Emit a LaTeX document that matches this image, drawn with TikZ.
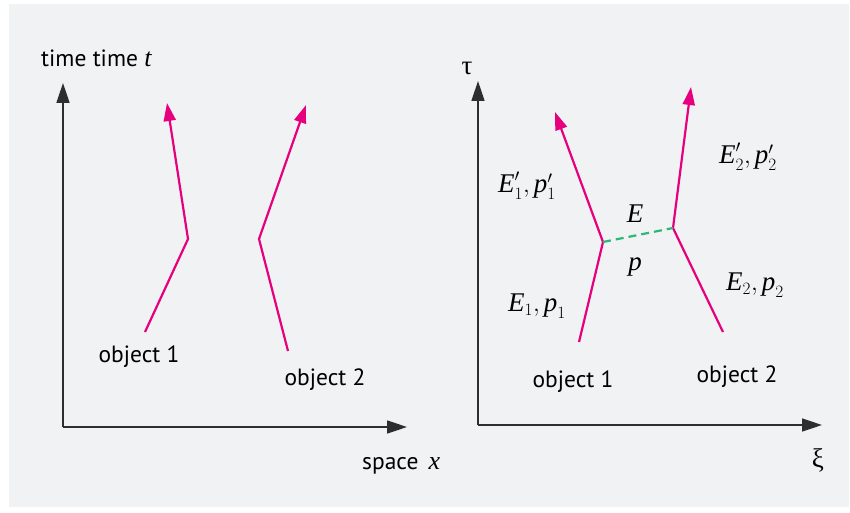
\documentclass[tikz,border=0pt]{standalone}
\usepackage{fontspec}
\setsansfont{PT Sans}
\newfontfamily\serifit{Liberation Serif}
\newcommand\mv[1]{\mbox{\serifit\itshape #1}}
\usetikzlibrary{arrows.meta}
\definecolor{bg}{HTML}{F1F2F4}
\definecolor{mag}{HTML}{E6007E}
\definecolor{grn}{HTML}{2DB87A}
\definecolor{axiscol}{HTML}{2E2E2E}
\tikzset{
  axisline/.style={draw=axiscol, line width=1.6pt, -{Triangle[length=20pt,width=13pt]}},
  wline/.style={draw=mag, line width=2.2pt},
  warrow/.style={wline, -{Triangle[length=18pt,width=12pt]}},
  exchange/.style={draw=grn, line width=2.2pt, dash pattern=on 8pt off 5pt},
  lbl/.style={font=\sffamily\fontsize{23.5}{28}\selectfont, inner sep=0pt},
  mlbl/.style={font=\fontsize{27}{32}\selectfont, inner sep=0pt}
}
\begin{document}
\begin{tikzpicture}[x=1pt,y=-1pt]
\useasboundingbox (0,0) rectangle (850,513);
\fill[bg] (9,4) rectangle (849,507);

% left panel
\coordinate (O1) at (63,427);
\coordinate (Y1) at (63,83);
\coordinate (X1) at (407,427);
\draw[axisline] (O1) -- (Y1);
\draw[axisline] (O1) -- (X1);
\node[lbl, anchor=west] (tlab) at (41,58) {time time {\serifit\itshape\fontsize{26}{30}\selectfont t}};
\node[lbl, anchor=west] (xlab) at (362,466) {space \,{\serifit\itshape\fontsize{26}{30}\selectfont x}};

\coordinate (a1) at (145,332);
\coordinate (b1) at (188,239);
\coordinate (c1) at (167,103);
\coordinate (a2) at (288,351);
\coordinate (b2) at (259,239);
\coordinate (c2) at (306,105);
\draw[warrow] (a1) -- (b1) -- (c1);
\draw[warrow] (a2) -- (b2) -- (c2);
\node[lbl] (ob1) at (139,357) {object 1};
\node[lbl] (ob2) at (325,380) {object 2};

% right panel
\coordinate (O2) at (478,425);
\coordinate (Y2) at (478,81);
\coordinate (X2) at (822,425);
\draw[axisline] (O2) -- (Y2);
\draw[axisline] (O2) -- (X2);
\node[mlbl] (tau) at (467,68) {\serifit τ};
\node[mlbl] (xi) at (818,460) {\serifit ξ};

\coordinate (d1) at (579,342);
\coordinate (e1) at (603,242);
\coordinate (f1) at (555,112);
\coordinate (d2) at (723,332);
\coordinate (e2) at (673,228);
\coordinate (f2) at (691,87);
\draw[warrow] (d1) -- (e1) -- (f1);
\draw[warrow] (d2) -- (e2) -- (f2);
\draw[exchange] (e1) -- (e2);

\node[mlbl] (E) at (635,214) {$\mv{E}$};
\node[mlbl] (p) at (635,267) {$\mv{p}$};
\node[mlbl] (ep1) at (537,306) {$\mv{E}_1, \mv{p}_1$};
\node[mlbl] (ep2) at (755,285) {$\mv{E}_2, \mv{p}_2$};
\node[mlbl] (epp1) at (527,186) {$\mv{E}'_1, \mv{p}'_1$};
\node[mlbl] (epp2) at (748,157) {$\mv{E}'_2, \mv{p}'_2$};
\node[lbl] (ob3) at (573,382) {object 1};
\node[lbl] (ob4) at (737,377) {object 2};
\end{tikzpicture}
\end{document}
